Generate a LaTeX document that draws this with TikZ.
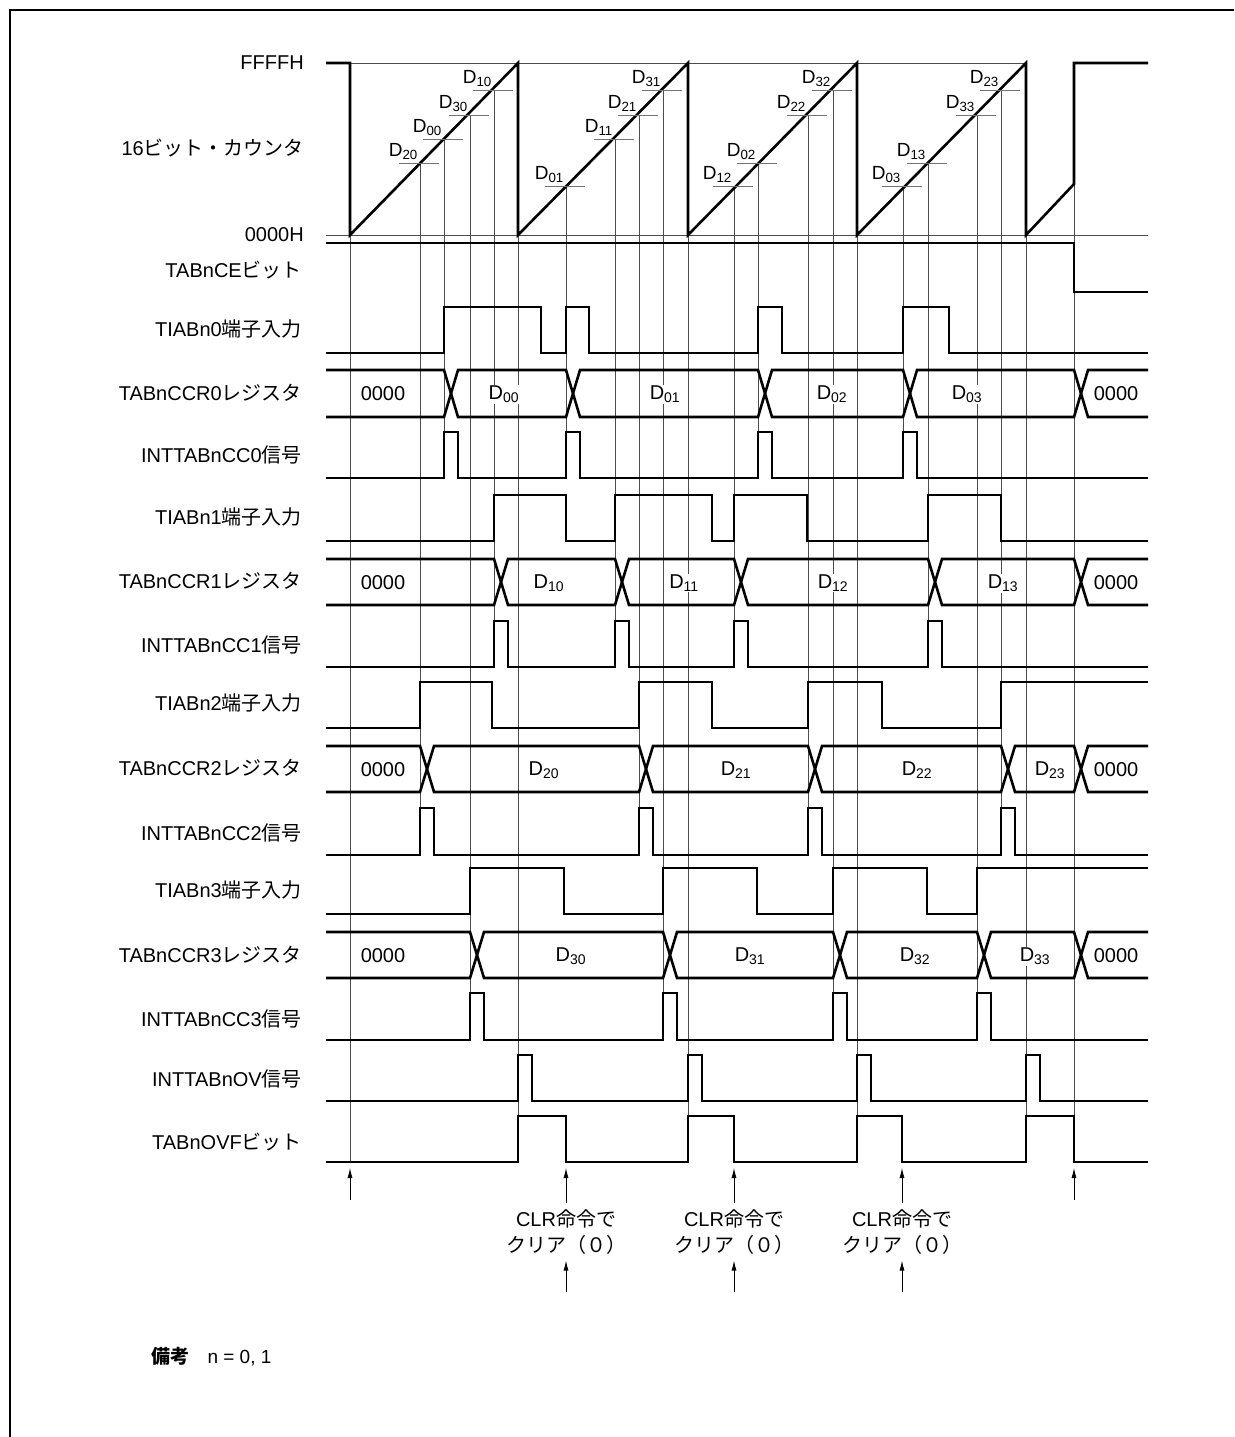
\documentclass[tikz,border=0pt]{standalone}
\usepackage{fontspec}
\setmainfont{Liberation Sans}
\newfontfamily\jpfont{Noto Sans CJK JP}
\usetikzlibrary{arrows.meta}
\newcommand{\jp}[1]{{\jpfont #1}}
\newcommand{\dval}[1]{D\textsubscript{#1}}

\begin{document}
\begin{tikzpicture}[x=1pt, y=-1pt,
  sig/.style={line width=2.6pt},
  grid/.style={line width=0.9pt, black!70},
  tickln/.style={line width=1pt, black!55},
  lab/.style={anchor=east, inner sep=0pt, font=\fontsize{20}{23}\selectfont},
  val/.style={fill=white, inner sep=1pt, font=\fontsize{20}{24}\selectfont},
  dlab/.style={anchor=south east, inner sep=0pt, font=\fontsize{19}{22}\selectfont},
  uparrow/.style={-{Latex[length=10pt, width=5pt]}, line width=0.8pt},
  clr/.style={align=center, inner xsep=2pt, inner ysep=6pt, font=\fontsize{20}{26}\selectfont}]
\useasboundingbox (0,0) rectangle (1234,1437);
% frame
\draw[line width=2pt] (10,1437) -- (10,10) -- (1234,10);

% vertical guide lines
\draw[grid] (350,235) -- (350,1162);
\draw[grid] (420,163) -- (420,855);
\draw[grid] (444,139) -- (444,478);
\draw[grid] (470,115) -- (470,1040);
\draw[grid] (494,90) -- (494,667);
\draw[grid] (518,63) -- (518,1162);
\draw[grid] (566,186) -- (566,478);
\draw[grid] (615,139) -- (615,667);
\draw[grid] (639,115) -- (639,855);
\draw[grid] (663,90) -- (663,1040);
\draw[grid] (688,63) -- (688,1162);
\draw[grid] (734,186) -- (734,667);
\draw[grid] (758,163) -- (758,478);
\draw[grid] (808,115) -- (808,855);
\draw[grid] (833,90) -- (833,1040);
\draw[grid] (857,63) -- (857,1162);
\draw[grid] (903,186) -- (903,478);
\draw[grid] (928,163) -- (928,667);
\draw[grid] (977,115) -- (977,1040);
\draw[grid] (1001,90) -- (1001,855);
\draw[grid] (1026,63) -- (1026,1162);
\draw[grid] (1074,184) -- (1074,1162);

% 16-bit counter
\draw[grid] (350,63) -- (1026,63);
\draw[grid] (326,235) -- (1148,235);
\draw[sig] (326,63) -- (350,63) -- (350,235) -- (518,63) -- (518,235) -- (688,63) -- (688,235)
  -- (857,63) -- (857,235) -- (1026,63) -- (1026,235) -- (1074,184) -- (1074,63) -- (1148,63);

% capture points
\draw[tickln] (399,163) -- (439,163);
\node[dlab] (d20) at (418,160) {\dval{20}};
\draw[tickln] (423,139) -- (463,139);
\node[dlab] (d00) at (442,136) {\dval{00}};
\draw[tickln] (449,115) -- (489,115);
\node[dlab] (d30) at (468,112) {\dval{30}};
\draw[tickln] (473,90) -- (513,90);
\node[dlab] (d10) at (492,87) {\dval{10}};
\draw[tickln] (545,186) -- (585,186);
\node[dlab] (d01) at (564,183) {\dval{01}};
\draw[tickln] (594,139) -- (634,139);
\node[dlab] (d11) at (613,136) {\dval{11}};
\draw[tickln] (618,115) -- (658,115);
\node[dlab] (d21) at (637,112) {\dval{21}};
\draw[tickln] (642,90) -- (682,90);
\node[dlab] (d31) at (661,87) {\dval{31}};
\draw[tickln] (713,186) -- (753,186);
\node[dlab] (d12) at (732,183) {\dval{12}};
\draw[tickln] (737,163) -- (777,163);
\node[dlab] (d02) at (756,160) {\dval{02}};
\draw[tickln] (787,115) -- (827,115);
\node[dlab] (d22) at (806,112) {\dval{22}};
\draw[tickln] (812,90) -- (852,90);
\node[dlab] (d32) at (831,87) {\dval{32}};
\draw[tickln] (882,186) -- (922,186);
\node[dlab] (d03) at (901,183) {\dval{03}};
\draw[tickln] (907,163) -- (947,163);
\node[dlab] (d13) at (926,160) {\dval{13}};
\draw[tickln] (956,115) -- (996,115);
\node[dlab] (d33) at (975,112) {\dval{33}};
\draw[tickln] (980,90) -- (1020,90);
\node[dlab] (d23) at (999,87) {\dval{23}};

% signal names
\node[lab] (ffff) at (304,63) {FFFFH};
\node[lab] (cnt) at (304,148) {16\jp{ビット・カウンタ}};
\node[lab] (zero) at (304,235) {0000H};
\node[lab] (ce) at (302,270) {TABnCE\jp{ビット}};
\node[lab] (tin0) at (302,329) {TIABn0\jp{端子入力}};
\node[lab] (ccr0) at (302,393) {TABnCCR0\jp{レジスタ}};
\node[lab] (int0) at (302,455) {INTTABnCC0\jp{信号}};
\node[lab] (tin1) at (302,517) {TIABn1\jp{端子入力}};
\node[lab] (ccr1) at (302,581) {TABnCCR1\jp{レジスタ}};
\node[lab] (int1) at (302,645) {INTTABnCC1\jp{信号}};
\node[lab] (tin2) at (302,703) {TIABn2\jp{端子入力}};
\node[lab] (ccr2) at (302,768) {TABnCCR2\jp{レジスタ}};
\node[lab] (int2) at (302,833) {INTTABnCC2\jp{信号}};
\node[lab] (tin3) at (302,890) {TIABn3\jp{端子入力}};
\node[lab] (ccr3) at (302,955) {TABnCCR3\jp{レジスタ}};
\node[lab] (int3) at (302,1019) {INTTABnCC3\jp{信号}};
\node[lab] (ovi) at (302,1079) {INTTABnOV\jp{信号}};
\node[lab] (ovf) at (302,1142) {TABnOVF\jp{ビット}};

% TABnCE
\draw[sig] (326,243) -- (1074,243) -- (1074,292) -- (1148,292);

% channel 0
\draw[sig] (326,353) -- (444,353) -- (444,307) -- (541,307) -- (541,353) -- (566,353) -- (566,307) -- (589,307)
  -- (589,353) -- (758,353) -- (758,307) -- (782,307) -- (782,353) -- (903,353) -- (903,307) -- (949,307) -- (949,353) -- (1148,353);
\draw[sig] (326,370) -- (444,370) -- (458,417) -- (566,417) -- (580,370) -- (758,370) -- (772,417) -- (903,417)
  -- (917,370) -- (1074,370) -- (1088,417) -- (1148,417);
\draw[sig] (326,417) -- (444,417) -- (458,370) -- (566,370) -- (580,417) -- (758,417) -- (772,370) -- (903,370)
  -- (917,417) -- (1074,417) -- (1088,370) -- (1148,370);
\node[val] (r0a) at (383,394) {0000};
\node[val] (r0b) at (504,394) {\dval{00}};
\node[val] (r0c) at (665,394) {\dval{01}};
\node[val] (r0d) at (832,394) {\dval{02}};
\node[val] (r0e) at (967,394) {\dval{03}};
\node[val] (r0f) at (1116,394) {0000};
\draw[sig] (326,478) -- (444,478) -- (444,432) -- (458,432) -- (458,478) -- (566,478) -- (566,432) -- (580,432)
  -- (580,478) -- (758,478) -- (758,432) -- (772,432) -- (772,478) -- (903,478) -- (903,432) -- (917,432) -- (917,478) -- (1148,478);

% channel 1
\draw[sig] (326,541) -- (494,541) -- (494,495) -- (566,495) -- (566,541) -- (615,541) -- (615,495) -- (712,495)
  -- (712,541) -- (734,541) -- (734,495) -- (807,495) -- (807,541) -- (928,541) -- (928,495) -- (1001,495) -- (1001,541) -- (1148,541);
\draw[sig] (326,559) -- (494,559) -- (508,605) -- (615,605) -- (629,559) -- (734,559) -- (748,605) -- (928,605)
  -- (942,559) -- (1074,559) -- (1088,605) -- (1148,605);
\draw[sig] (326,605) -- (494,605) -- (508,559) -- (615,559) -- (629,605) -- (734,605) -- (748,559) -- (928,559)
  -- (942,605) -- (1074,605) -- (1088,559) -- (1148,559);
\node[val] (r1a) at (383,583) {0000};
\node[val] (r1b) at (549,583) {\dval{10}};
\node[val] (r1c) at (684,583) {\dval{11}};
\node[val] (r1d) at (833,583) {\dval{12}};
\node[val] (r1e) at (1003,583) {\dval{13}};
\node[val] (r1f) at (1116,583) {0000};
\draw[sig] (326,667) -- (494,667) -- (494,621) -- (508,621) -- (508,667) -- (615,667) -- (615,621) -- (629,621)
  -- (629,667) -- (734,667) -- (734,621) -- (748,621) -- (748,667) -- (928,667) -- (928,621) -- (942,621) -- (942,667) -- (1148,667);

% channel 2
\draw[sig] (326,728) -- (420,728) -- (420,682) -- (492,682) -- (492,728) -- (639,728) -- (639,682) -- (712,682)
  -- (712,728) -- (808,728) -- (808,682) -- (882,682) -- (882,728) -- (1001,728) -- (1001,682) -- (1148,682);
\draw[sig] (326,746) -- (420,746) -- (434,792) -- (639,792) -- (653,746) -- (808,746) -- (822,792) -- (1001,792)
  -- (1015,746) -- (1074,746) -- (1088,792) -- (1148,792);
\draw[sig] (326,792) -- (420,792) -- (434,746) -- (639,746) -- (653,792) -- (808,792) -- (822,746) -- (1001,746)
  -- (1015,792) -- (1074,792) -- (1088,746) -- (1148,746);
\node[val] (r2a) at (383,770) {0000};
\node[val] (r2b) at (544,770) {\dval{20}};
\node[val] (r2c) at (736,770) {\dval{21}};
\node[val] (r2d) at (917,770) {\dval{22}};
\node[val] (r2e) at (1050,770) {\dval{23}};
\node[val] (r2f) at (1116,770) {0000};
\draw[sig] (326,855) -- (420,855) -- (420,808) -- (434,808) -- (434,855) -- (639,855) -- (639,808) -- (653,808)
  -- (653,855) -- (808,855) -- (808,808) -- (822,808) -- (822,855) -- (1001,855) -- (1001,808) -- (1015,808) -- (1015,855) -- (1148,855);

% channel 3
\draw[sig] (326,914) -- (470,914) -- (470,868) -- (564,868) -- (564,914) -- (663,914) -- (663,868) -- (757,868)
  -- (757,914) -- (833,914) -- (833,868) -- (927,868) -- (927,914) -- (977,914) -- (977,868) -- (1148,868);
\draw[sig] (326,932) -- (470,932) -- (484,978) -- (663,978) -- (677,932) -- (833,932) -- (847,978) -- (977,978)
  -- (991,932) -- (1074,932) -- (1088,978) -- (1148,978);
\draw[sig] (326,978) -- (470,978) -- (484,932) -- (663,932) -- (677,978) -- (833,978) -- (847,932) -- (977,932)
  -- (991,978) -- (1074,978) -- (1088,932) -- (1148,932);
\node[val] (r3a) at (383,956) {0000};
\node[val] (r3b) at (571,956) {\dval{30}};
\node[val] (r3c) at (750,956) {\dval{31}};
\node[val] (r3d) at (915,956) {\dval{32}};
\node[val] (r3e) at (1035,956) {\dval{33}};
\node[val] (r3f) at (1116,956) {0000};
\draw[sig] (326,1040) -- (470,1040) -- (470,993) -- (484,993) -- (484,1040) -- (663,1040) -- (663,993) -- (677,993)
  -- (677,1040) -- (833,1040) -- (833,993) -- (847,993) -- (847,1040) -- (977,1040) -- (977,993) -- (991,993) -- (991,1040) -- (1148,1040);

% overflow
\draw[sig] (326,1101) -- (518,1101) -- (518,1055) -- (532,1055) -- (532,1101) -- (688,1101) -- (688,1055) -- (702,1055)
  -- (702,1101) -- (857,1101) -- (857,1055) -- (871,1055) -- (871,1101) -- (1026,1101) -- (1026,1055) -- (1040,1055) -- (1040,1101) -- (1148,1101);
\draw[sig] (326,1162) -- (518,1162) -- (518,1116) -- (566,1116) -- (566,1162) -- (688,1162) -- (688,1116) -- (734,1116)
  -- (734,1162) -- (857,1162) -- (857,1116) -- (902,1116) -- (902,1162) -- (1026,1162) -- (1026,1116) -- (1074,1116) -- (1074,1162) -- (1148,1162);

% clear points
\coordinate (s0) at (350,1168);
\coordinate (s1) at (566,1168);
\coordinate (s2) at (734,1168);
\coordinate (s3) at (902,1168);
\coordinate (s4) at (1074,1168);
\coordinate (e0) at (350,1200);
\coordinate (e4) at (1074,1200);
\draw[uparrow] (e0) -- (s0);
\draw[uparrow] (e4) -- (s4);
\node[clr] (clr1) at (566,1232) {CLR\jp{命令で}\\\jp{クリア（０）}};
\node[clr] (clr2) at (734,1232) {CLR\jp{命令で}\\\jp{クリア（０）}};
\node[clr] (clr3) at (902,1232) {CLR\jp{命令で}\\\jp{クリア（０）}};
\draw[uparrow] (clr1.north) -- (s1);
\draw[uparrow] (clr2.north) -- (s2);
\draw[uparrow] (clr3.north) -- (s3);
\coordinate (b1) at (566,1292);
\coordinate (b2) at (734,1292);
\coordinate (b3) at (902,1292);
\draw[uparrow] (b1) -- (clr1.south);
\draw[uparrow] (b2) -- (clr2.south);
\draw[uparrow] (b3) -- (clr3.south);

% remark
\node[anchor=west, font=\fontsize{19}{22}\selectfont] (note) at (148,1357) {{\jpfont\bfseries 備考}\hspace{18pt}n = 0, 1};
\end{tikzpicture}
\end{document}
